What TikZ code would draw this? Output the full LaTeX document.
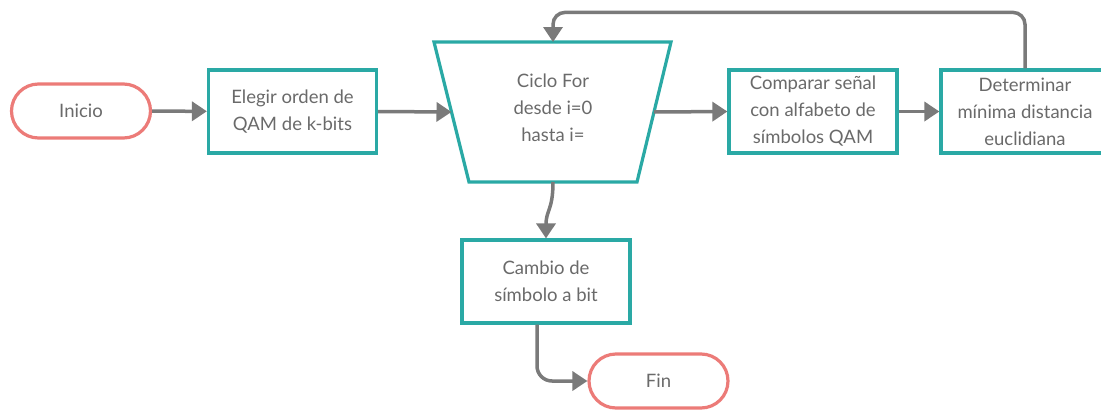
\documentclass[tikz,border=0pt]{standalone}
\usepackage{fontspec}
\setmainfont{Lato}
\usetikzlibrary{arrows.meta,calc}
\definecolor{tealc}{HTML}{2AA9A5}
\definecolor{redc}{HTML}{EC7B78}
\definecolor{grayc}{HTML}{7A7A7A}
\definecolor{txtc}{HTML}{6A6A6A}
\tikzset{
  lbl/.style={text=txtc, align=center, font=\fontsize{18.5}{27}\selectfont},
  proc/.style={lbl, draw=tealc, line width=3.2pt, fill=white, minimum width=168pt, minimum height=83pt, inner sep=0pt},
  term/.style={lbl, draw=redc, line width=3.2pt, fill=white, rounded corners=27pt, minimum width=139pt, minimum height=54pt, inner sep=0pt},
  conn/.style={draw=grayc, line width=3.5pt, -{Triangle[length=15pt,width=19pt]}},
  trapline/.style={draw=tealc, line width=3.2pt, line join=miter},
}
\begin{document}
\begin{tikzpicture}[x=1pt,y=-1pt]
\useasboundingbox (0,0) rectangle (1101,410);
\node[term] (inicio) at (81,111) {Inicio};
\node[proc] (elegir) at (292.5,111.5) {Elegir orden de\\QAM de k-bits};
% trapezoid (Ciclo For)
\coordinate (forTL) at (434,42);
\coordinate (forTR) at (671,42);
\coordinate (forBR) at (637,182);
\coordinate (forBL) at (469,182);
\draw[trapline] (forTL) -- (forTR) -- (forBR) -- (forBL) -- cycle;
\coordinate (forL) at (451.5,112);
\coordinate (forR) at (654,112);
\coordinate (forT) at (553,42);
\coordinate (forB) at (553,182);
\node[lbl] (fortext) at (553,108) {Ciclo For\\desde i=0\\hasta i=};
\node[proc] (comp) at (813,111.5) {Comparar señal\\con alfabeto de\\símbolos QAM};
\node[proc] (determ) at (1025,111.5) {Determinar\\mínima distancia\\euclidiana};
\node[proc] (cambio) at (546,281.5) {Cambio de\\símbolo a bit};
\node[term] (fin) at (658.5,381) {Fin};

\draw[conn] (inicio) -- (elegir);
\draw[conn] (elegir.east) -- (forL);
\draw[conn] (forR) -- (comp.west);
\draw[conn] (comp) -- (determ);
\draw[conn, rounded corners=12pt] (determ.north) -- ++(0,-56) -| (forT);
\draw[conn] (forB) .. controls +(0,28) and +(0,-28) .. (cambio.north);
\draw[conn, rounded corners=15pt] ([xshift=-9pt]cambio.south) |- (fin.west);
\end{tikzpicture}
\end{document}
